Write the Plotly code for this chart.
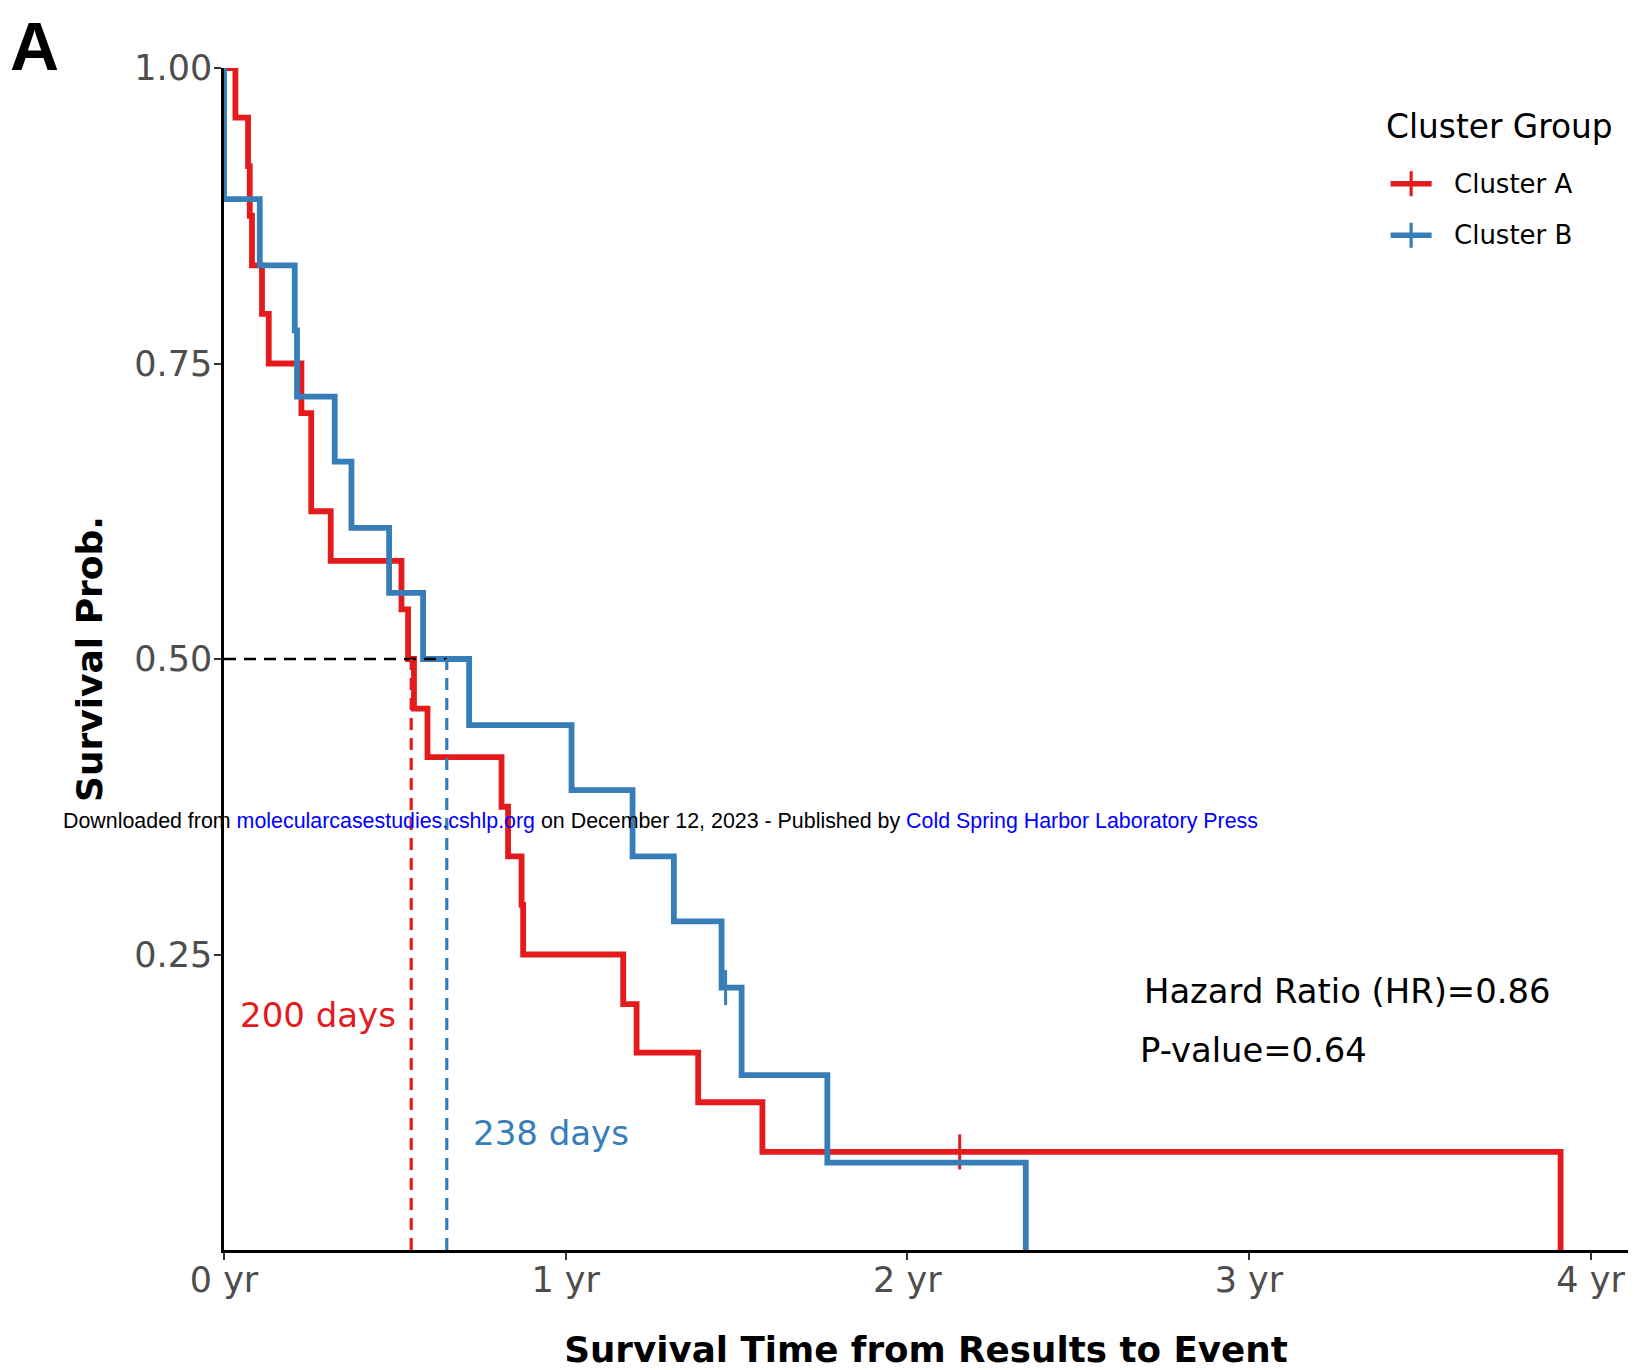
import plotly.graph_objects as go

# ---------------- data ----------------
time_a = [0, 12.2, 25.7, 27.5, 29.9, 40.6, 47.8, 82.7, 93.2, 114, 189.6, 196.7, 203,
          217.4, 296.5, 303.5, 317.9, 319.6, 426.5, 440.8, 506.6, 575.2, 1428]
surv_a = [1.000, 0.958, 0.917, 0.875, 0.833, 0.792, 0.750, 0.708, 0.625, 0.583, 0.542,
          0.500, 0.458, 0.417, 0.375, 0.333, 0.292, 0.250, 0.208, 0.167, 0.125, 0.083, 0.000]
censor_a_time = [786]
censor_a_surv = [0.083]

time_b = [0, 0, 38.2, 75.6, 78, 118.3, 136.2, 176.4, 212.7, 261.9, 371.3, 436.5,
          480.6, 531.6, 553, 644.6, 856.6]
surv_b = [1.000, 0.889, 0.833, 0.778, 0.722, 0.667, 0.611, 0.556, 0.500, 0.444, 0.389,
          0.333, 0.278, 0.222, 0.148, 0.074, 0.000]
censor_b_time = [535.9]
censor_b_surv = [0.222]

group_names = ["Cluster A", "Cluster B"]
legend_title = "Cluster Group"
median_days = [200, 238]
median_level = 0.5

x_tick_vals = [0, 365, 730, 1095, 1460]
x_tick_text = ["0 yr", "1 yr", "2 yr", "3 yr", "4 yr"]
y_tick_vals = [0.25, 0.50, 0.75, 1.00]
y_tick_text = ["0.25", "0.50", "0.75", "1.00"]

hazard_ratio = 0.86
p_value = 0.64

# ---------------- style ----------------
RED = "#E41A1C"
BLUE = "#377EB8"
colors = [RED, BLUE]
OFF = 8                      # page body margin of the browser
W, H = 1649 - OFF, 1370 - OFF
# plot-area edges in page pixels
PL, PR, PT, PB = 224.3, 1628.4, 68.3, 1250.3
L, R, T, B = PL - OFF, PR - OFF, PT - OFF, PB - OFF
X_MAX = 1500


def px_x(px):
    return (px - PL) / (PR - PL)


def px_y(py):
    return (PB - py) / (PB - PT)


fig = go.Figure()

series = [(time_a, surv_a, censor_a_time, censor_a_surv),
          (time_b, surv_b, censor_b_time, censor_b_surv)]
for i, (t, s, ct, cs) in enumerate(series):
    fig.add_trace(go.Scatter(
        x=t, y=s, mode="lines", line=dict(color=colors[i], width=5.8, shape="hv"),
        name=group_names[i], legendgroup=group_names[i], showlegend=False,
        hoverinfo="skip"))
    fig.add_trace(go.Scatter(
        x=ct, y=cs, mode="markers", name=group_names[i] + " (censored)",
        legendgroup=group_names[i], showlegend=False,
        marker=dict(symbol="line-ns", size=25, color=colors[i],
                    line=dict(color=colors[i], width=3)),
        cliponaxis=False))

# median reference lines
dash = "12px,8px"
fig.add_shape(type="line", xref="x", yref="y", x0=0, x1=max(median_days),
              y0=median_level, y1=median_level,
              line=dict(color="black", width=2.6, dash=dash))
for i, m in enumerate(median_days):
    fig.add_shape(type="line", xref="x", yref="y", x0=m, x1=m, y0=0, y1=median_level,
                  line=dict(color=colors[i], width=3.2, dash=dash))

# median labels
fig.add_annotation(x=100, y=0.199, xref="x", yref="y", text=f"{median_days[0]} days",
                   showarrow=False, font=dict(size=34, color=RED), xanchor="center",
                   yanchor="middle")
fig.add_annotation(x=349, y=0.0986, xref="x", yref="y", text=f"{median_days[1]} days",
                   showarrow=False, font=dict(size=34, color=BLUE), xanchor="center",
                   yanchor="middle")

# statistics
fig.add_annotation(x=980.3, y=0.2187, xref="x", yref="y",
                   text=f"Hazard Ratio (HR)={hazard_ratio}", showarrow=False,
                   font=dict(size=33.8, color="black"), xanchor="left", yanchor="middle")
fig.add_annotation(x=976.6, y=0.1689, xref="x", yref="y",
                   text=f"P-value={p_value}", showarrow=False,
                   font=dict(size=33.8, color="black"), xanchor="left", yanchor="middle")

# legend (drawn by hand to match spacing)
fig.add_annotation(x=px_x(1384), y=px_y(127), xref="paper", yref="paper",
                   text=legend_title, showarrow=False,
                   font=dict(size=32.8, color="black"), xanchor="left", yanchor="middle")
legend_rows = [184, 235.6]
for i, name in enumerate(group_names):
    yy = px_y(legend_rows[i])
    fig.add_shape(type="line", xref="paper", yref="paper", x0=px_x(1391), x1=px_x(1432),
                  y0=yy, y1=yy, line=dict(color=colors[i], width=5.5))
    fig.add_shape(type="line", xref="paper", yref="paper", x0=px_x(1411.5),
                  x1=px_x(1411.5), y0=px_y(legend_rows[i] - 12.5),
                  y1=px_y(legend_rows[i] + 12.5), line=dict(color=colors[i], width=3.2))
    fig.add_annotation(x=px_x(1452), y=yy, xref="paper", yref="paper", text=name,
                       showarrow=False, font=dict(size=26, color="black"),
                       xanchor="left", yanchor="middle")

# panel letter
fig.add_annotation(x=px_x(35), y=px_y(46), xref="paper", yref="paper", text="<b>A</b>",
                   showarrow=False, font=dict(size=68, color="black",
                                              family="Liberation Sans, Arial"),
                   xanchor="center", yanchor="middle")

# download watermark
fig.add_annotation(
    x=px_x(61), y=px_y(821), xref="paper", yref="paper",
    text=('Downloaded from <span style="color:#0000FF">molecularcasestudies.cshlp.org</span>'
          ' on December 12, 2023 - Published by '
          '<span style="color:#0000FF">Cold Spring Harbor Laboratory Press</span>'),
    showarrow=False, font=dict(size=21.4, color="black", family="Liberation Sans, Arial"),
    xanchor="left", yanchor="middle")

axis_common = dict(showgrid=False, zeroline=False, showline=True, linecolor="black",
                   linewidth=2.5, ticks="outside", ticklen=7, tickwidth=1.6,
                   tickcolor="#333333", tickfont=dict(size=35, color="#4D4D4D"))

fig.update_layout(
    width=W, height=H,
    margin=dict(l=L, r=W - R, t=T, b=H - B, autoexpand=False),
    plot_bgcolor="white", paper_bgcolor="white",
    font=dict(family="DejaVu Sans", color="black"),
    xaxis=dict(range=[0, X_MAX], tickvals=x_tick_vals, ticktext=x_tick_text,
               ticklabelstandoff=-10,
               title=dict(text="<b>Survival Time from Results to Event</b>",
                          font=dict(size=35.7, color="black"), standoff=41),
               **axis_common),
    yaxis=dict(range=[0, 1.0], tickvals=y_tick_vals, ticktext=y_tick_text,
               ticklabelstandoff=-5,
               title=dict(text="<b>Survival Prob.</b>",
                          font=dict(size=36, color="black"), standoff=21),
               **axis_common),
    showlegend=False,
)

fig.write_html("out.html")
